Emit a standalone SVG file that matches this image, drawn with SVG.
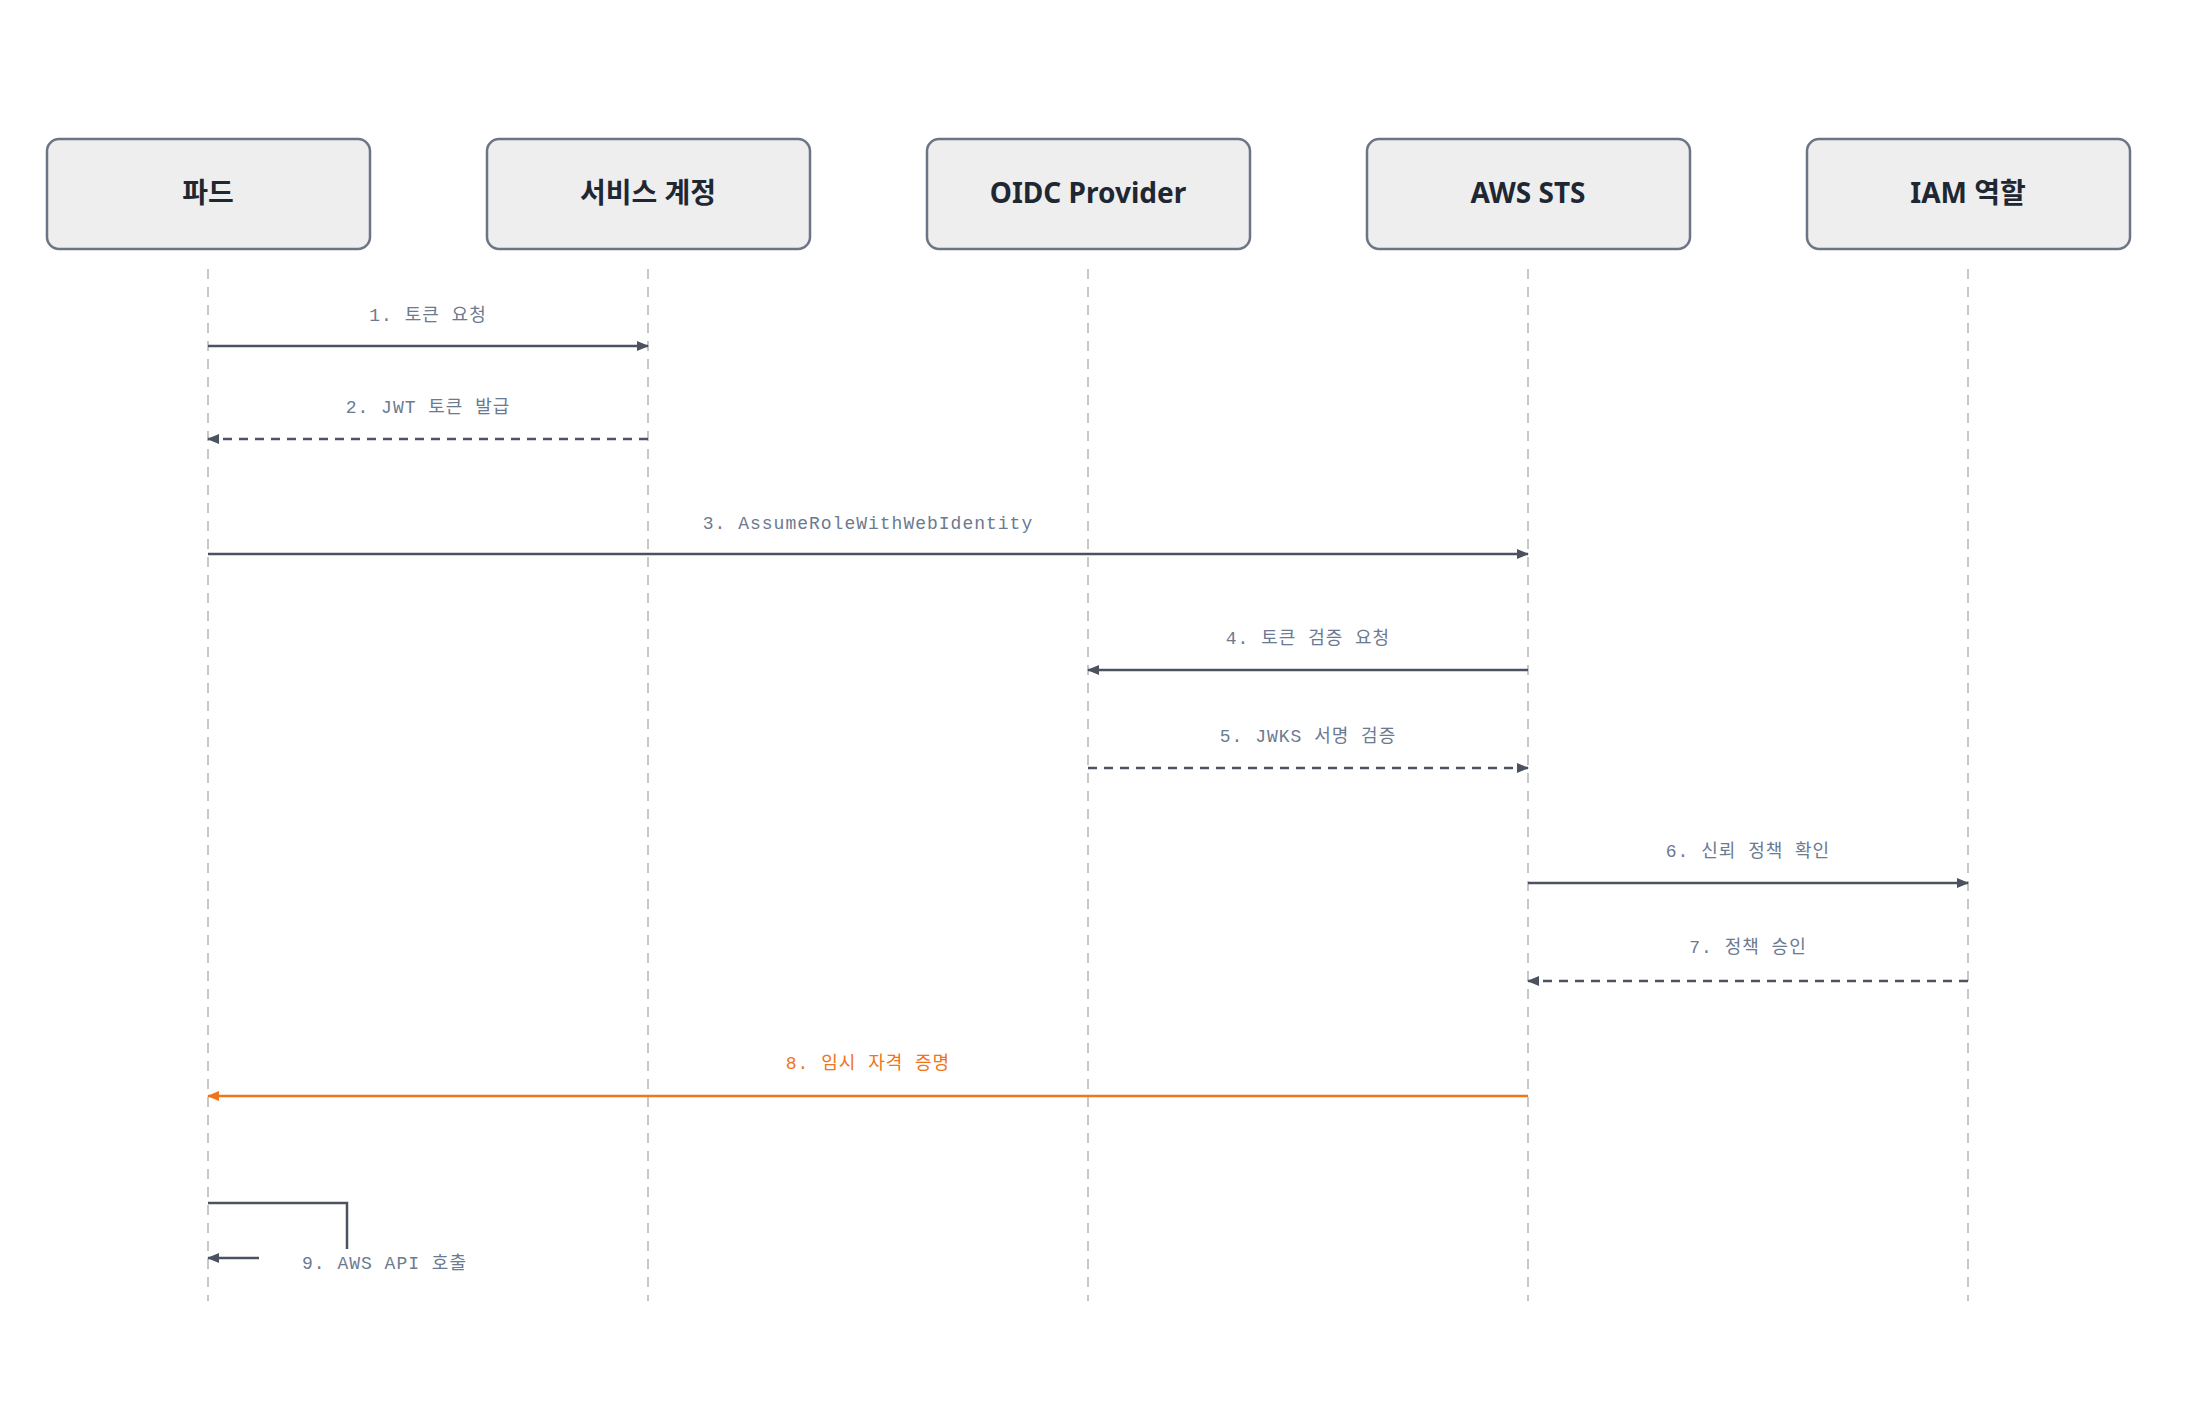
<svg xmlns="http://www.w3.org/2000/svg" width="2200" height="1422" viewBox="0 0 2200 1422">
<style>
.box{fill:#eeeeee;stroke:#6b7584;stroke-width:2.5}
.title{font-family:"Noto Sans","Noto Sans CJK KR",sans-serif;font-weight:700;font-size:28px;fill:#1f2733;text-anchor:middle}
.life{stroke:#c8c8c8;stroke-width:2;stroke-dasharray:10 8}
.msg{stroke:#4b5360;stroke-width:2.5;fill:none}
.dash{stroke-dasharray:9 7}
.lbl{font-family:"Liberation Mono","Noto Sans CJK KR",monospace;font-size:18px;fill:#6b7a90;text-anchor:middle;letter-spacing:1px}
.bg{fill:#ffffff}
</style>
<defs>
<marker id="ah" markerWidth="12" markerHeight="10" refX="11" refY="5" orient="auto" markerUnits="userSpaceOnUse" viewBox="0 0 12 10"><path d="M0,0 L12,5 L0,10 Z" fill="#4b5360"/></marker>
<marker id="aho" markerWidth="12" markerHeight="10" refX="11" refY="5" orient="auto" markerUnits="userSpaceOnUse" viewBox="0 0 12 10"><path d="M0,0 L12,5 L0,10 Z" fill="#f07418"/></marker>
</defs>
<rect width="2200" height="1422" fill="#ffffff"/>
<g id="lifelines">
<line class="life" x1="208" y1="269" x2="208" y2="1301"/>
<line class="life" x1="648" y1="269" x2="648" y2="1301"/>
<line class="life" x1="1088" y1="269" x2="1088" y2="1301"/>
<line class="life" x1="1528" y1="269" x2="1528" y2="1301"/>
<line class="life" x1="1968" y1="269" x2="1968" y2="1301"/>
</g>
<g id="n1"><rect class="box" x="47" y="139" width="323" height="110" rx="12"/><text class="title" x="208" y="203">파드</text></g>
<g id="n2"><rect class="box" x="487" y="139" width="323" height="110" rx="12"/><text class="title" x="648" y="203">서비스 계정</text></g>
<g id="n3"><rect class="box" x="927" y="139" width="323" height="110" rx="12"/><text class="title" x="1088" y="203">OIDC Provider</text></g>
<g id="n4"><rect class="box" x="1367" y="139" width="323" height="110" rx="12"/><text class="title" x="1528" y="203">AWS STS</text></g>
<g id="n5"><rect class="box" x="1807" y="139" width="323" height="110" rx="12"/><text class="title" x="1968" y="203">IAM 역할</text></g>
<g id="connectors">
<line class="msg" x1="208" y1="346" x2="648" y2="346" marker-end="url(#ah)"/>
<text class="lbl" x="428" y="321">1. 토큰 요청</text>
<line class="msg dash" x1="648" y1="439" x2="208" y2="439" marker-end="url(#ah)"/>
<text class="lbl" x="428" y="413">2. JWT 토큰 발급</text>
<rect class="bg" x="675" y="503" width="390" height="28"/>
<line class="msg" x1="208" y1="554" x2="1528" y2="554" marker-end="url(#ah)"/>
<text class="lbl" x="868" y="529">3. AssumeRoleWithWebIdentity</text>
<line class="msg" x1="1528" y1="670" x2="1088" y2="670" marker-end="url(#ah)"/>
<text class="lbl" x="1308" y="644">4. 토큰 검증 요청</text>
<line class="msg dash" x1="1088" y1="768" x2="1528" y2="768" marker-end="url(#ah)"/>
<text class="lbl" x="1308" y="742">5. JWKS 서명 검증</text>
<line class="msg" x1="1528" y1="883" x2="1968" y2="883" marker-end="url(#ah)"/>
<text class="lbl" x="1748" y="857">6. 신뢰 정책 확인</text>
<line class="msg dash" x1="1968" y1="981" x2="1528" y2="981" marker-end="url(#ah)"/>
<text class="lbl" x="1748" y="953">7. 정책 승인</text>
<line class="msg" style="stroke:#f07418" x1="1528" y1="1096" x2="208" y2="1096" marker-end="url(#aho)"/>
<text class="lbl" style="fill:#f07418" x="868" y="1069">8. 임시 자격 증명</text>
<polyline class="msg" points="208,1203 347,1203 347,1249"/>
<line class="msg" x1="259" y1="1258" x2="208" y2="1258" marker-end="url(#ah)"/>
<text class="lbl" x="302" y="1269" style="text-anchor:start">9. AWS API 호출</text>
</g>
</svg>
